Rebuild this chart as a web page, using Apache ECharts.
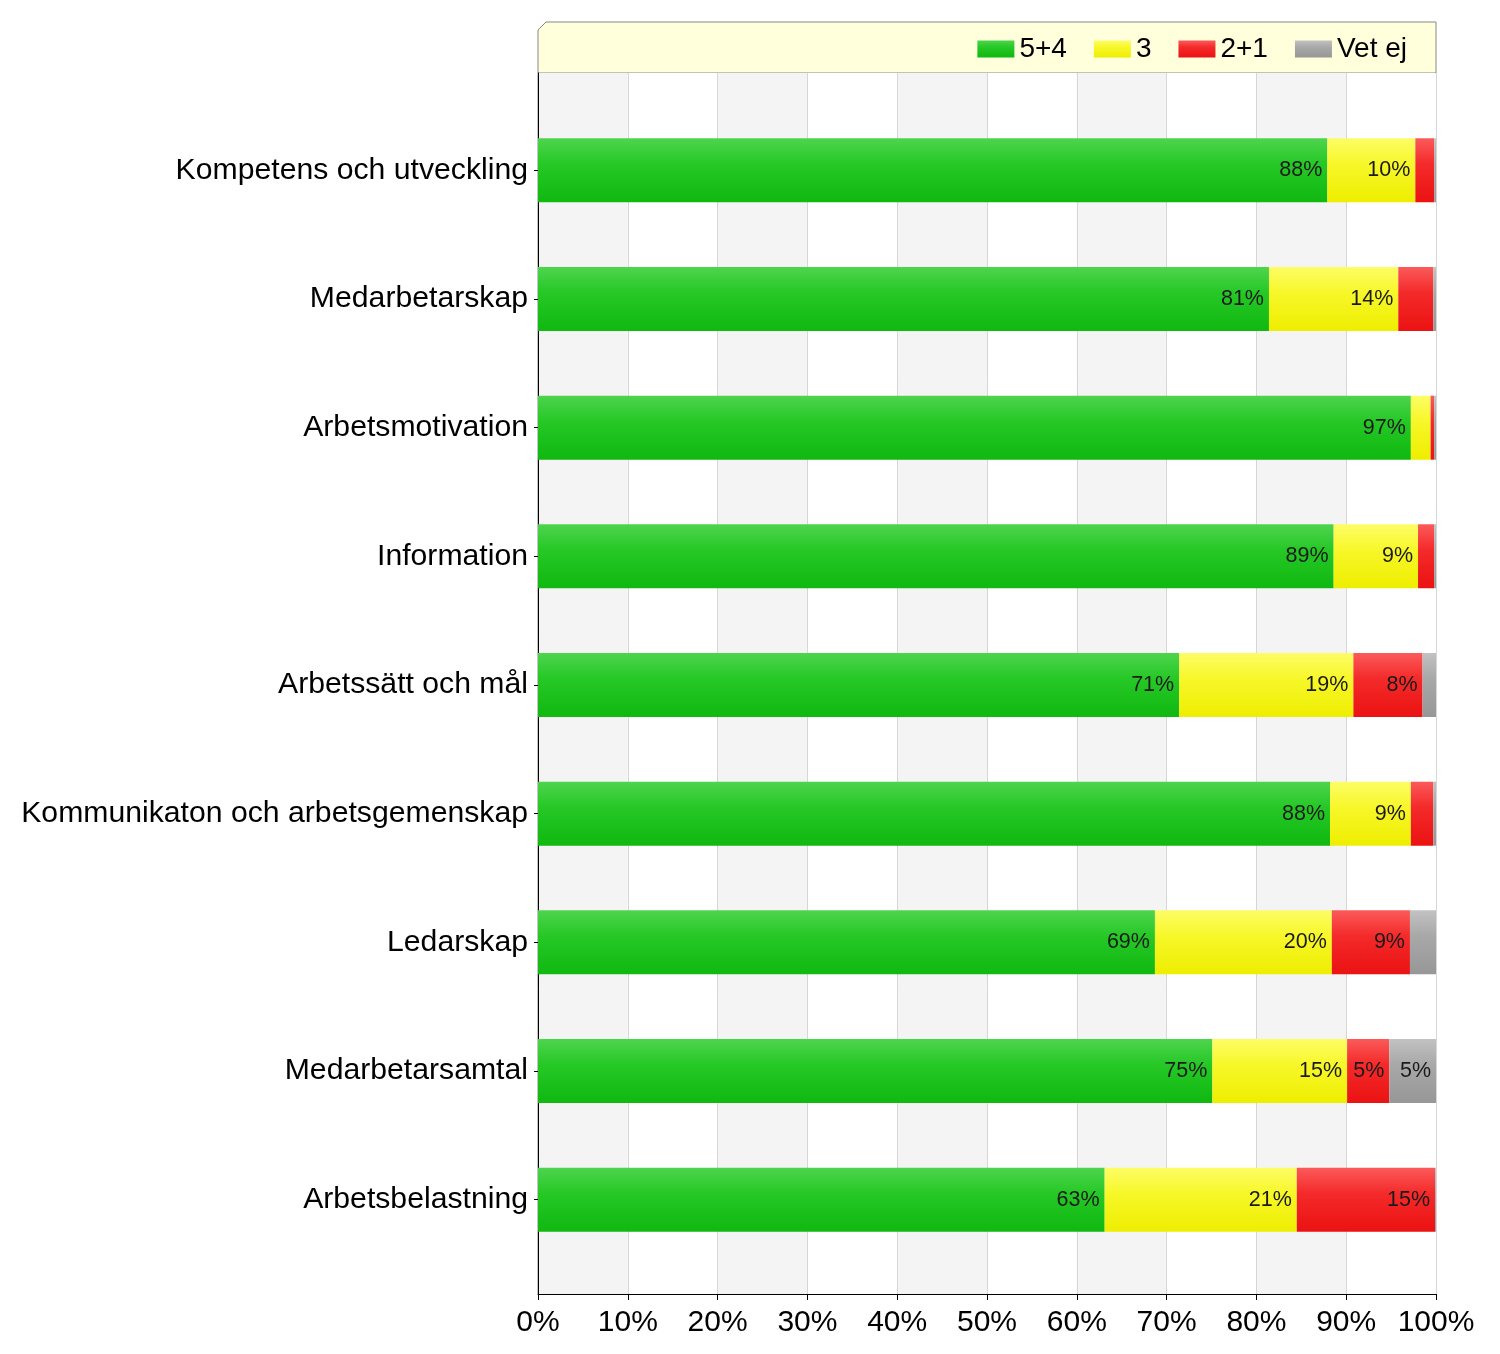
<!DOCTYPE html>
<html>
<head>
<meta charset="utf-8">
<script src="https://cdn.jsdelivr.net/npm/echarts@6/dist/echarts.min.js"></script>
<style>html,body{margin:0;padding:0;background:#fff}#c{width:1500px;height:1354px}</style>
</head>
<body>
<div id="c"></div>
<script>
const categories = ['Kompetens och utveckling','Medarbetarskap','Arbetsmotivation','Information','Arbetssätt och mål','Kommunikaton och arbetsgemenskap','Ledarskap','Medarbetarsamtal','Arbetsbelastning'];
const seriesNames = ['5+4','3','2+1','Vet ej'];
const green  = [87.9, 81.4, 97.2, 88.6, 71.4, 88.2, 68.7, 75.1, 63.1];
const yellow = [9.8, 14.4, 2.2, 9.4, 19.4, 9.0, 19.7, 15.0, 21.4];
const red    = [2.1, 3.9, 0.4, 1.8, 7.7, 2.5, 8.7, 4.7, 15.4];
const gray   = [0.2, 0.3, 0.2, 0.2, 1.5, 0.3, 2.9, 5.2, 0.1];
const xTicks = [0,10,20,30,40,50,60,70,80,90,100];

const FONT = "'Liberation Sans', Arial, sans-serif";
function grad(dark, mid, light){
  return new echarts.graphic.LinearGradient(0,1,0,0,[{offset:0,color:dark},{offset:0.6,color:mid},{offset:1,color:light}]);
}
const colors = [
  grad('#10b810','#26c826','#4ed44e'),
  grad('#eeee00','#f7f72a','#fdfd66'),
  grad('#eb1212','#f42a2a','#fb5a5a'),
  grad('#979797','#a8a8a8','#c2c2c2')
];
const dataSets = [green, yellow, red, gray];

const chart = echarts.init(document.getElementById('c'), null, {renderer:'canvas'});
chart.setOption({
  animation:false,
  textStyle:{fontFamily:FONT},
  graphic:[{
    type:'polygon', z:0,
    shape:{points:[[538,73],[538,30],[546,22],[1436,22],[1436,73]]},
    style:{fill:'#ffffdc', stroke:'#888', lineWidth:1}
  }],
  legend:{
    data:seriesNames, right:88, top:30, icon:'rect', itemWidth:37, itemHeight:17, itemGap:27,
    textStyle:{fontSize:28, color:'#000', fontFamily:FONT}
  },
  grid:[
    {left:538, right:64, top:73, bottom:60, show:true, borderColor:'#888', borderWidth:1, backgroundColor:'transparent'},
    {left:538, right:64, top:106, bottom:90}
  ],
  xAxis:[
    {gridIndex:0, type:'value', min:0, max:100, interval:10,
     axisLine:{show:true, lineStyle:{color:'#000', width:1}},
     axisTick:{show:true, length:6, lineStyle:{color:'#000'}},
     axisLabel:{fontSize:30, color:'#000', margin:14, fontFamily:FONT,
       formatter:function(v){ return xTicks.indexOf(v) >= 0 ? v + '%' : ''; }},
     splitLine:{show:true, lineStyle:{color:'#d6d6d6'}},
     splitArea:{show:true, areaStyle:{color:['#f4f4f4','#ffffff']}}
    },
    {gridIndex:1, type:'value', min:0, max:100, show:false}
  ],
  yAxis:[
    {gridIndex:0, type:'value', min:0, max:1,
     axisLine:{show:true, lineStyle:{color:'#000'}}, axisTick:{show:false}, axisLabel:{show:false}, splitLine:{show:false}},
    {gridIndex:1, type:'category', data:categories, inverse:true,
     axisLine:{show:false},
     axisTick:{show:true, alignWithLabel:true, length:4, lineStyle:{color:'#000'}},
     axisLabel:{fontSize:30.2, color:'#000', margin:10, fontFamily:FONT},
     splitLine:{show:false}
    }
  ],
  series: seriesNames.map(function(name, i){
    return {
      name:name, type:'bar', stack:'total', xAxisIndex:1, yAxisIndex:1,
      barWidth:64, data:dataSets[i],
      itemStyle:{color:colors[i]},
      label:{show:true, position:'insideRight', distance:5, fontSize:21.5, color:'#1a1a1a', fontFamily:FONT,
        formatter:function(p){ return p.value >= 4.5 ? Math.round(p.value) + '%' : ''; }}
    };
  })
});
</script>
</body>
</html>
